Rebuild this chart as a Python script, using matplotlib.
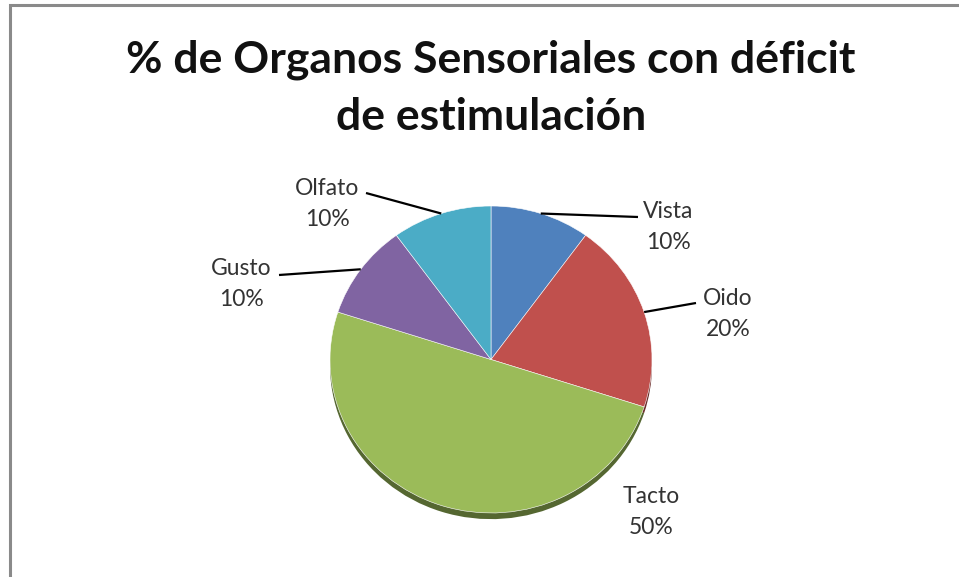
import numpy as np
import matplotlib.pyplot as plt
from matplotlib.patches import Rectangle
from matplotlib.colors import to_rgb

# data
categorias = ['Vista', 'Oido', 'Tacto', 'Gusto', 'Olfato']
porcentajes = [10, 20, 50, 10, 10]
colores = ['#4F81BD', '#C0504D', '#9BBB59', '#8064A2', '#4BACC6']
titulo = '% de Organos Sensoriales con déficit\nde estimulación'

W, H = 959, 577
fig = plt.figure(figsize=(W / 100, H / 100), dpi=100)
plt.rcParams['font.family'] = ['Lato', 'DejaVu Sans']

# outer frame (open to the right and bottom like the cropped screenshot)
fig.patches.append(Rectangle((10 / W, -0.05), 1.1, 1 - 5 / H + 0.05,
                             transform=fig.transFigure, fill=False,
                             edgecolor='#8a8a8a', linewidth=2.2))

fig.text(491 / W, 1 - 88 / H, titulo, ha='center', va='center',
         fontsize=32, fontweight='bold', color='#111111', linespacing=1.5)

# pie axes: box matches the tilted ellipse of the original
cx, rx = 491, 161
top, bot = 206, 513
cy = (top + bot) / 2
ry = (bot - top) / 2
ax = fig.add_axes([(cx - rx) / W, 1 - bot / H, 2 * rx / W, 2 * ry / H])

# darker rim for the 3D look
oscuro = [tuple(c * 0.55 for c in to_rgb(col)) for col in colores]
ax.pie(porcentajes, colors=oscuro, startangle=90, counterclock=False,
       radius=1, center=(0, -0.04), wedgeprops=dict(linewidth=0))
wedges, _ = ax.pie(porcentajes, colors=colores, startangle=90, counterclock=False,
                   radius=1, wedgeprops=dict(linewidth=0.4, edgecolor='white'))
ax.set_aspect('auto')
ax.set_xlim(-1, 1)
ax.set_ylim(-1, 1)
ax.axis('off')

# label layout (pixel positions of text centre and leader end)
texto_pos = {'Vista': (668, 227), 'Oido': (728, 314), 'Tacto': (651, 512),
             'Gusto': (241, 284), 'Olfato': (327, 204)}
linea_fin = {'Vista': (638, 217), 'Oido': (696, 303), 'Gusto': (279, 275),
             'Olfato': (366, 193)}


def a_datos(px, py):
    return (px - cx) / rx, (cy - py) / ry


for w, cat, p in zip(wedges, categorias, porcentajes):
    ang = np.deg2rad((w.theta1 + w.theta2) / 2)
    x0, y0 = np.cos(ang), np.sin(ang)
    if cat in linea_fin:
        x1, y1 = a_datos(*linea_fin[cat])
        ax.plot([x0, x1], [y0, y1], color='black', linewidth=1.6,
                clip_on=False, solid_capstyle='butt')
    tx, ty = a_datos(*texto_pos[cat])
    ax.text(tx, ty, f'{cat}\n{p}%', ha='center', va='center', fontsize=16.5,
            color='#333333', linespacing=1.6, clip_on=False)

fig.savefig('out.png', dpi=100)
